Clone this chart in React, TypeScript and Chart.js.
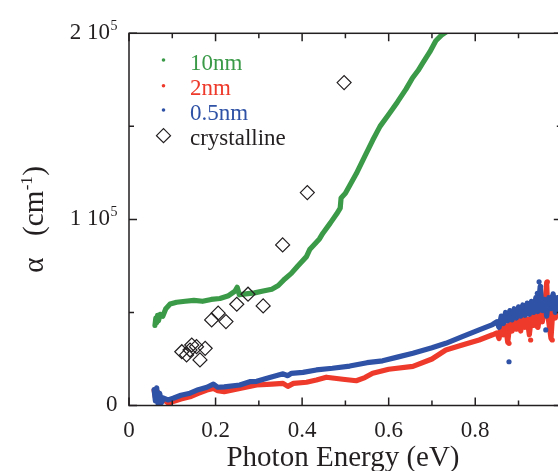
import React, { useEffect, useRef } from "react";
import { Chart, registerables } from "chart.js";

Chart.register(...registerables);

// ---------- data ----------
const green10Energy = [0.060, 0.062, 0.064, 0.066, 0.068, 0.072, 0.078, 0.085, 0.095, 0.110, 0.130, 0.150, 0.170, 0.190, 0.210, 0.230, 0.245, 0.250, 0.255, 0.270, 0.290, 0.310, 0.330, 0.345, 0.360, 0.375, 0.390, 0.410, 0.418, 0.440, 0.448, 0.465, 0.480, 0.488, 0.490, 0.500, 0.525, 0.545, 0.563, 0.580, 0.602, 0.620, 0.640, 0.655, 0.668, 0.680, 0.695, 0.709, 0.722, 0.735];
const green10Alpha = [43000, 47000, 44500, 48500, 45500, 49000, 48000, 52000, 54500, 55500, 56000, 56500, 56000, 57000, 57500, 59000, 61500, 63500, 59500, 60000, 60500, 61500, 62500, 64500, 68000, 71000, 75000, 80000, 84000, 89500, 92600, 98000, 103000, 106000, 111500, 114000, 124500, 134000, 142500, 150000, 157000, 163000, 170000, 176000, 180000, 184500, 190000, 196000, 199000, 201000];

const red2Energy = [0.058, 0.062, 0.066, 0.070, 0.078, 0.091, 0.100, 0.120, 0.141, 0.160, 0.180, 0.195, 0.205, 0.220, 0.256, 0.295, 0.330, 0.356, 0.367, 0.380, 0.410, 0.433, 0.456, 0.494, 0.525, 0.545, 0.563, 0.600, 0.656, 0.700, 0.732, 0.770, 0.809, 0.840, 0.850, 0.855, 0.860, 0.865, 0.870, 0.875, 0.880, 0.885, 0.890, 0.895, 0.900, 0.905, 0.910, 0.915, 0.920, 0.925, 0.930, 0.935, 0.940, 0.945, 0.950, 0.955, 0.960, 0.965, 0.968, 0.975, 0.980, 0.985, 0.990, 0.995, 1.000];
const red2Alpha = [8300, 3000, 7400, 2000, 3500, 1200, 2000, 3500, 4700, 6500, 8300, 9200, 8000, 7400, 9200, 11000, 11500, 11900, 10300, 11900, 12500, 13700, 15200, 14100, 13300, 15000, 17300, 19500, 21000, 25000, 29800, 32500, 35200, 38000, 39000, 36000, 42000, 38000, 43000, 34000, 44000, 40000, 45000, 41000, 46000, 40000, 47000, 42000, 46500, 38000, 48000, 43000, 49000, 42000, 50000, 45000, 52000, 66000, 48000, 36000, 54000, 47000, 55000, 49000, 53000];
const red2OutlierEnergy = [0.863, 0.878, 0.928, 0.9435, 0.9666, 0.978];
const red2OutlierAlpha = [46000, 33400, 35200, 42400, 66500, 35200];

const blue05Energy = [0.058, 0.061, 0.064, 0.067, 0.071, 0.075, 0.080, 0.090, 0.102, 0.120, 0.141, 0.160, 0.180, 0.195, 0.205, 0.220, 0.256, 0.279, 0.295, 0.325, 0.356, 0.367, 0.375, 0.402, 0.433, 0.470, 0.510, 0.550, 0.586, 0.620, 0.656, 0.700, 0.732, 0.770, 0.809, 0.840, 0.850, 0.855, 0.860, 0.865, 0.870, 0.875, 0.880, 0.885, 0.890, 0.895, 0.900, 0.905, 0.910, 0.915, 0.920, 0.925, 0.930, 0.935, 0.940, 0.945, 0.950, 0.955, 0.960, 0.965, 0.970, 0.975, 0.980, 0.985, 0.990, 0.995, 1.000];
const blue05Alpha = [8500, 2500, 9500, 1000, 6500, 1500, 4000, 3000, 3900, 5500, 6600, 8500, 9800, 11500, 9800, 10000, 11000, 12800, 13000, 15000, 17000, 16000, 17300, 17800, 19100, 20000, 21200, 23000, 24000, 26000, 28100, 31000, 33400, 37000, 40600, 43500, 45000, 42000, 48000, 44000, 50000, 45500, 51000, 46000, 52000, 47000, 53000, 48000, 54000, 48500, 55000, 49000, 56000, 50000, 58000, 50500, 64000, 51000, 57000, 48000, 58000, 52000, 60000, 50000, 58000, 53000, 57000];
const blue05OutlierEnergy = [0.855, 0.871, 0.878, 0.909, 0.9435, 0.9475, 0.951, 0.963, 0.978];
const blue05OutlierAlpha = [42400, 49600, 23500, 53100, 60300, 66500, 63900, 40600, 58500];

const crystEnergy = [0.122, 0.133, 0.141, 0.145, 0.156, 0.164, 0.176, 0.191, 0.206, 0.224, 0.249, 0.275, 0.310, 0.355, 0.412, 0.497];
const crystAlpha = [28900, 27200, 29800, 32500, 31600, 24500, 30700, 46000, 49600, 45100, 54400, 59800, 53500, 86300, 114400, 173500];

const xMajorTicks = [0, 0.2, 0.4, 0.6, 0.8, 1.0];
const xMinorTicks = [0.1, 0.3, 0.5, 0.7, 0.9];
const xTickLabels = ["0", "0.2", "0.4", "0.6", "0.8"];
const yMajorTicks = [0, 100000, 200000];
const yMinorTicks = [50000, 150000];
const yTickMantissa = ["0", "1 10", "2 10"];
const yTickExponent = ["", "5", "5"];

const seriesNames = ["10nm", "2nm", "0.5nm", "crystalline"];

const GREEN = "#3a9a48";
const RED = "#ee3a2b";
const BLUE = "#2f52a6";
const INK = "#231f20";
const SERIF = "'Liberation Serif', 'Times New Roman', serif";

const pts = (xs: number[], ys: number[]) => xs.map((x, i) => ({ x, y: ys[i] }));

const decorPlugin = {
  id: "decor",
  afterDatasetsDraw(chart: any) {
    const { ctx, chartArea: a, scales } = chart;
    const xs = scales.x;
    const ys = scales.y;
    ctx.save();
    ctx.strokeStyle = INK;
    ctx.lineWidth = 1.5;
    ctx.strokeRect(a.left, a.top, a.right - a.left, a.bottom - a.top);
    ctx.beginPath();
    const xt = (v: number, len: number) => {
      const p = xs.getPixelForValue(v);
      ctx.moveTo(p, a.bottom);
      ctx.lineTo(p, a.bottom - len);
      ctx.moveTo(p, a.top);
      ctx.lineTo(p, a.top + len);
    };
    const yt = (v: number, len: number) => {
      const p = ys.getPixelForValue(v);
      ctx.moveTo(a.left, p);
      ctx.lineTo(a.left + len, p);
      ctx.moveTo(a.right, p);
      ctx.lineTo(a.right - len, p);
    };
    xMajorTicks.forEach((v) => xt(v, 8));
    xMinorTicks.forEach((v) => xt(v, 5));
    yMajorTicks.forEach((v) => yt(v, 8));
    yMinorTicks.forEach((v) => yt(v, 5));
    ctx.stroke();
    ctx.restore();
  },
  afterDraw(chart: any) {
    const { ctx, chartArea: a, scales } = chart;
    const xs = scales.x;
    const ys = scales.y;
    ctx.save();
    ctx.fillStyle = INK;
    ctx.textBaseline = "alphabetic";

    // x tick labels
    ctx.font = `23px ${SERIF}`;
    ctx.textAlign = "center";
    xTickLabels.forEach((t, i) => {
      ctx.fillText(t, xs.getPixelForValue(xMajorTicks[i]), a.bottom + 31.5);
    });

    // y tick labels
    const rightEdge = a.left - 11.5;
    yMajorTicks.forEach((v, i) => {
      const p = ys.getPixelForValue(v) + 5.5;
      let x = rightEdge;
      const ex = yTickExponent[i];
      if (ex) {
        ctx.font = `14px ${SERIF}`;
        const w = ctx.measureText(ex).width;
        ctx.textAlign = "left";
        ctx.fillText(ex, rightEdge - w, p - 9);
        x = rightEdge - w - 0.5;
      }
      ctx.font = `23px ${SERIF}`;
      ctx.textAlign = "right";
      ctx.fillText(yTickMantissa[i], x, p);
    });

    // x title
    ctx.font = `29px ${SERIF}`;
    ctx.textAlign = "center";
    ctx.fillText("Photon Energy (eV)", 343, 466);

    // y title (rotated)
    ctx.save();
    const cy = (a.top + a.bottom) / 2;
    ctx.translate(43, cy);
    ctx.rotate(-Math.PI / 2);
    ctx.textAlign = "left";
    const partA = "\u03b1   (cm";
    const sup = "-1";
    const partC = ")";
    ctx.font = `29px ${SERIF}`;
    const wA = ctx.measureText(partA).width;
    const wC = ctx.measureText(partC).width;
    ctx.font = `17px ${SERIF}`;
    const wS = ctx.measureText(sup).width;
    const total = wA + wS + wC + 1;
    const x0 = -total / 2;
    ctx.font = `29px ${SERIF}`;
    ctx.fillText(partA, x0, 0);
    ctx.font = `17px ${SERIF}`;
    ctx.fillText(sup, x0 + wA + 0.5, -11);
    ctx.font = `29px ${SERIF}`;
    ctx.fillText(partC, x0 + wA + wS + 1, 0);
    ctx.restore();

    // legend
    const colors = [GREEN, RED, BLUE, INK];
    const markerX = 163.5;
    const textX = 190;
    const rows = [60, 85.7, 110, 135.7];
    ctx.font = `23px ${SERIF}`;
    ctx.textAlign = "left";
    seriesNames.forEach((name, i) => {
      const y = rows[i];
      if (i < 3) {
        ctx.fillStyle = colors[i];
        ctx.beginPath();
        ctx.arc(markerX, y, 1.8, 0, Math.PI * 2);
        ctx.fill();
      } else {
        ctx.strokeStyle = INK;
        ctx.lineWidth = 1.2;
        ctx.beginPath();
        ctx.moveTo(markerX - 7, y);
        ctx.lineTo(markerX, y - 7);
        ctx.lineTo(markerX + 7, y);
        ctx.lineTo(markerX, y + 7);
        ctx.closePath();
        ctx.stroke();
      }
      ctx.fillStyle = colors[i];
      ctx.fillText(name, textX, y + 9.5);
    });
    ctx.restore();
  },
};

export default function App() {
  const ref = useRef<HTMLCanvasElement | null>(null);

  useEffect(() => {
    if (!ref.current) return;
    const W = 570;
    const H = 471;
    const lineDs = (label: string, data: any[], color: string, order: number) => ({
      label,
      data,
      showLine: true,
      borderColor: color,
      backgroundColor: color,
      borderWidth: 5.2,
      borderJoinStyle: "round" as const,
      borderCapStyle: "round" as const,
      pointRadius: 0,
      tension: 0,
      order,
    });
    const dotDs = (label: string, data: any[], color: string, order: number) => ({
      label,
      data,
      showLine: false,
      pointRadius: 2.6,
      pointBorderWidth: 0,
      pointBackgroundColor: color,
      order,
    });
    const chart = new Chart(ref.current, {
      type: "scatter",
      data: {
        datasets: [
          {
            label: seriesNames[3],
            data: pts(crystEnergy, crystAlpha),
            showLine: false,
            pointStyle: "rectRot",
            pointRadius: 7,
            pointBorderWidth: 1.2,
            pointBorderColor: INK,
            pointBackgroundColor: "rgba(0,0,0,0)",
            order: 0,
          } as any,
          lineDs(seriesNames[0], pts(green10Energy, green10Alpha), GREEN, 1),
          dotDs(seriesNames[2], pts(blue05OutlierEnergy, blue05OutlierAlpha), BLUE, 2),
          lineDs(seriesNames[2], pts(blue05Energy, blue05Alpha), BLUE, 2),
          dotDs(seriesNames[1], pts(red2OutlierEnergy, red2OutlierAlpha), RED, 3),
          lineDs(seriesNames[1], pts(red2Energy, red2Alpha), RED, 3),
        ],
      },
      options: {
        animation: false,
        responsive: false,
        devicePixelRatio: 1,
        events: [],
        layout: {
          padding: { left: 129, right: W - 563.5, top: 33.3, bottom: H - 405.5 },
        },
        plugins: {
          legend: { display: false },
          tooltip: { enabled: false },
        },
        scales: {
          x: { type: "linear", min: 0, max: 1.0, display: false },
          y: { type: "linear", min: 0, max: 200000, display: false },
        },
      },
      plugins: [decorPlugin],
    });
    return () => chart.destroy();
  }, []);

  return (
    <div
      style={{
        position: "fixed",
        left: 0,
        top: 0,
        width: 558,
        height: 471,
        overflow: "hidden",
        background: "#fff",
      }}
    >
      <canvas ref={ref} width={570} height={471} style={{ width: 570, height: 471, display: "block" }} />
    </div>
  );
}
